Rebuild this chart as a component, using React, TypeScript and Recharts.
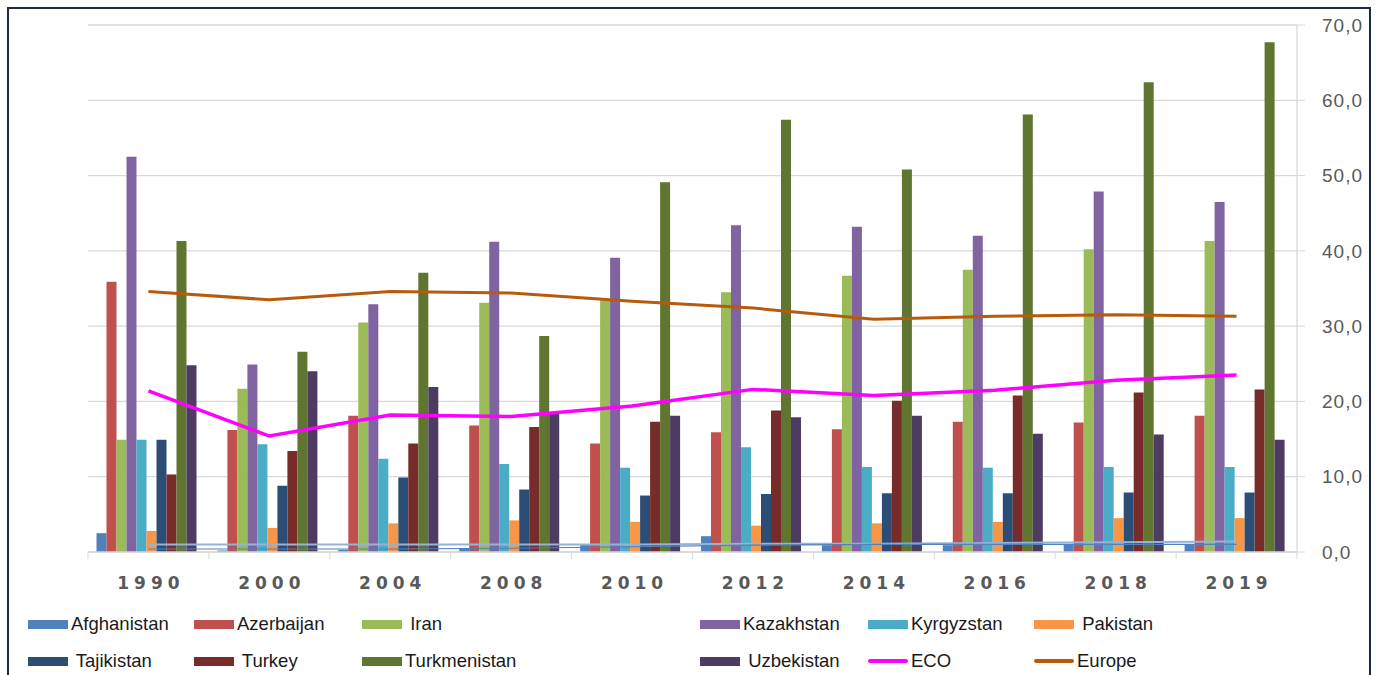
import React from 'react';
import { ComposedChart, Bar, Line, XAxis, YAxis, CartesianGrid } from 'recharts';

const years = ['1990', '2000', '2004', '2008', '2010', '2012', '2014', '2016', '2018', '2019'];

const afghanistan = [2.5, 0.2, 0.3, 0.5, 1.0, 2.1, 0.9, 0.9, 1.0, 1.0];
const azerbaijan = [35.9, 16.2, 18.1, 16.8, 14.4, 15.9, 16.3, 17.3, 17.2, 18.1];
const iran = [14.9, 21.7, 30.5, 33.1, 33.5, 34.5, 36.7, 37.5, 40.2, 41.3];
const kazakhstan = [52.5, 24.9, 32.9, 41.2, 39.1, 43.4, 43.2, 42.0, 47.9, 46.5];
const kyrgyzstan = [14.9, 14.3, 12.4, 11.7, 11.2, 13.9, 11.3, 11.2, 11.3, 11.3];
const pakistan = [2.8, 3.2, 3.8, 4.2, 4.0, 3.5, 3.8, 4.0, 4.5, 4.5];
const tajikistan = [14.9, 8.8, 9.9, 8.3, 7.5, 7.7, 7.8, 7.8, 7.9, 7.9];
const turkey = [10.3, 13.4, 14.4, 16.6, 17.3, 18.8, 20.1, 20.8, 21.2, 21.6];
const turkmenistan = [41.3, 26.6, 37.1, 28.7, 49.1, 57.4, 50.8, 58.1, 62.4, 67.7];
const uzbekistan = [24.8, 24.0, 21.9, 18.5, 18.1, 17.9, 18.1, 15.7, 15.6, 14.9];
const eco = [21.4, 15.4, 18.2, 18.0, 19.4, 21.6, 20.8, 21.5, 22.8, 23.5];
const europe = [34.6, 33.5, 34.6, 34.4, 33.3, 32.4, 30.9, 31.3, 31.5, 31.3];
const extraLight = [1.0, 1.0, 1.0, 1.0, 1.0, 1.1, 1.1, 1.2, 1.3, 1.4];
const extraDark = [0.4, 0.4, 0.4, 0.5, 0.7, 0.9, 1.0, 1.0, 1.0, 1.0];

const yTicks = [0, 10, 20, 30, 40, 50, 60, 70];

const barSeries = [
  { key: 'afghanistan', name: 'Afghanistan', values: afghanistan, color: '#4F81BD' },
  { key: 'azerbaijan', name: 'Azerbaijan', values: azerbaijan, color: '#C0504D' },
  { key: 'iran', name: ' Iran', values: iran, color: '#9BBB59' },
  { key: 'kazakhstan', name: 'Kazakhstan', values: kazakhstan, color: '#8064A2' },
  { key: 'kyrgyzstan', name: 'Kyrgyzstan', values: kyrgyzstan, color: '#4BACC6' },
  { key: 'pakistan', name: ' Pakistan', values: pakistan, color: '#F79646' },
  { key: 'tajikistan', name: ' Tajikistan', values: tajikistan, color: '#2C4D75' },
  { key: 'turkey', name: ' Turkey', values: turkey, color: '#772C2A' },
  { key: 'turkmenistan', name: 'Turkmenistan', values: turkmenistan, color: '#5F7530' },
  { key: 'uzbekistan', name: ' Uzbekistan', values: uzbekistan, color: '#4D3B62' },
];

const lineSeries = [
  { key: 'eco', name: 'ECO', values: eco, color: '#FF00FF', width: 3.5 },
  { key: 'europe', name: 'Europe', values: europe, color: '#B85A0C', width: 3 },
];

const hiddenLines = [
  { key: 'extraLight', values: extraLight, color: '#95B3D7', width: 2 },
  { key: 'extraDark', values: extraDark, color: '#4F81BD', width: 1.2 },
];

const data = years.map((year, i) => {
  const row: Record<string, any> = { year };
  barSeries.forEach((s) => (row[s.key] = s.values[i]));
  lineSeries.forEach((s) => (row[s.key] = s.values[i]));
  hiddenLines.forEach((s) => (row[s.key] = s.values[i]));
  return row;
});

const CHART_W = 1379;
const CHART_H = 600;
const X_H = 48;
const MARGIN = { top: 25, right: 8, bottom: 0, left: 88 };
const Y_W = 74;
const PLOT_W = CHART_W - MARGIN.left - MARGIN.right - Y_W;
const BAND = PLOT_W / years.length;

const XTick = (props: any) => {
  const { x, y, payload, index } = props;
  const half = BAND / 2;
  return (
    <g>
      <line x1={x - half} x2={x - half} y1={y} y2={y + 7} stroke="#D9D9D9" strokeWidth={1} />
      {index === years.length - 1 && (
        <line x1={x + half} x2={x + half} y1={y} y2={y + 7} stroke="#D9D9D9" strokeWidth={1} />
      )}
      <text
        x={x + 2.5}
        y={y + 37}
        textAnchor="middle"
        fill="#595959"
        fontFamily="DejaVu Sans"
        fontWeight="bold"
        fontSize={17}
        letterSpacing={5}
      >
        {payload.value}
      </text>
    </g>
  );
};

const legendCols = [28, 194, 362, 700, 868, 1034];
const legendRows = [624, 661];

const LegendBlock = () => {
  const items = [
    ...barSeries.map((s) => ({ name: s.name, color: s.color, type: 'bar' })),
    ...lineSeries.map((s) => ({ name: s.name, color: s.color, type: 'line' })),
  ];
  return (
    <>
      {items.map((it, i) => {
        const col = i % 6;
        const row = Math.floor(i / 6);
        return (
          <div
            key={it.name}
            style={{
              position: 'absolute',
              left: legendCols[col],
              top: legendRows[row] - 12,
              height: 24,
              display: 'flex',
              alignItems: 'center',
              fontFamily: 'Liberation Sans',
              fontSize: 18.5,
              color: '#1a1a1a',
              whiteSpace: 'pre',
            }}
          >
            {it.type === 'bar' ? (
              <div style={{ width: 40, height: 9, background: it.color }} />
            ) : (
              <div style={{ width: 40, height: 4, background: it.color, borderRadius: 2 }} />
            )}
            <span style={{ marginLeft: 3 }}>{it.name}</span>
          </div>
        );
      })}
    </>
  );
};

export default function App() {
  return (
    <div style={{ position: 'fixed', left: 0, top: 0, width: 1379, height: 675, overflow: 'hidden', background: '#fff' }}>
      <div
        style={{
          position: 'absolute',
          left: 7,
          top: 7,
          width: 1364,
          height: 720,
          boxSizing: 'border-box',
          border: '2px solid #1C2A44',
        }}
      />
      <div style={{ position: 'absolute', left: 0, top: 0 }}>
        <ComposedChart
          width={CHART_W}
          height={CHART_H}
          data={data}
          margin={MARGIN}
          barCategoryGap={8.5}
          barGap={0}
        >
          <CartesianGrid vertical={false} stroke="#D9D9D9" strokeWidth={1.3} />
          <XAxis
            dataKey="year"
            axisLine={{ stroke: '#D9D9D9', strokeWidth: 1.3 }}
            tickLine={false}
            tickSize={0}
            tickMargin={0}
            interval={0}
            tick={<XTick />}
            height={X_H}
          />
          <YAxis
            orientation="right"
            domain={[0, 70]}
            ticks={yTicks}
            width={Y_W}
            axisLine={{ stroke: '#D9D9D9', strokeWidth: 1.3 }}
            tickLine={{ stroke: '#D9D9D9' }}
            tickSize={8}
            tickMargin={17}
            tickFormatter={(v: number) => v.toFixed(1).replace('.', ',')}
            tick={{ fill: '#595959', fontFamily: 'Liberation Sans', fontSize: 19, letterSpacing: 1 }}
            allowDataOverflow
          />
          {barSeries.map((s) => (
            <Bar key={s.key} dataKey={s.key} name={s.name} fill={s.color} isAnimationActive={false} />
          ))}
          {hiddenLines.map((s) => (
            <Line
              key={s.key}
              dataKey={s.key}
              stroke={s.color}
              strokeWidth={s.width}
              dot={false}
              type="linear"
              legendType="none"
              isAnimationActive={false}
            />
          ))}
          {lineSeries.map((s) => (
            <Line
              key={s.key}
              dataKey={s.key}
              name={s.name}
              stroke={s.color}
              strokeWidth={s.width}
              dot={false}
              type="linear"
              isAnimationActive={false}
            />
          ))}
        </ComposedChart>
      </div>
      <LegendBlock />
    </div>
  );
}
